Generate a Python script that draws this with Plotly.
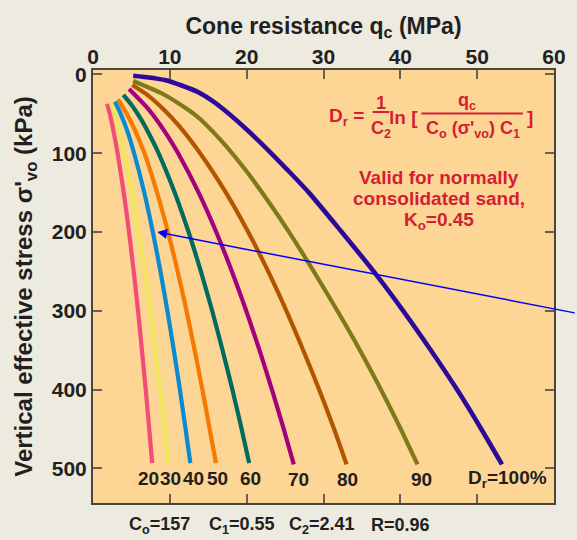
import plotly.graph_objects as go

# ---- data (qc in MPa, sigma'vo in kPa) ----
dr_levels = [20, 30, 40, 50, 60, 70, 80, 90, 100]

qc_20 = [1.83, 2.19, 2.63, 3.2, 4.0, 4.69, 5.3, 5.86, 6.37, 6.86, 7.32, 7.7]
sv_20 = [37.4, 50, 70, 100, 150, 200, 250, 300, 350, 400, 450, 493.4]

qc_30 = [2.35, 2.78, 3.35, 4.07, 5.09, 5.96, 6.74, 7.45, 8.11, 8.73, 9.32, 9.8]
sv_30 = [35.8, 50, 70, 100, 150, 200, 250, 300, 350, 400, 450, 493.4]

qc_40 = [2.85, 3.6, 4.4, 5.35, 6.68, 7.79, 8.78, 9.68, 10.52, 11.31, 12.05, 12.67]
sv_40 = [34.5, 50, 70, 100, 150, 200, 250, 300, 350, 400, 450, 493.4]

qc_50 = [3.25, 4.4, 5.42, 6.7, 8.34, 9.76, 11.02, 12.17, 13.23, 14.24, 15.18, 16.0]
sv_50 = [31.5, 50, 70, 100, 150, 200, 250, 300, 350, 400, 450, 493.4]

qc_60 = [3.95, 5.12, 6.3, 7.27, 8.54, 10.64, 12.44, 14.04, 15.51, 16.86, 18.14, 19.34, 20.33]
sv_60 = [26, 40, 57.7, 75, 100, 150, 200, 250, 300, 350, 400, 450, 493.4]

qc_70 = [4.69, 6.93, 8.46, 9.77, 11.08, 13.75, 16.04, 18.08, 19.94, 21.67, 23.29, 24.82, 26.13]
sv_70 = [18.4, 40.9, 60, 78.9, 100, 150, 200, 250, 300, 350, 400, 450, 495]

qc_80 = [5.11, 6.94, 9.27, 11.17, 13.94, 17.3, 20.2, 22.8, 25.17, 27.36, 29.43, 31.38, 33.0]
sv_80 = [13.3, 25, 45.1, 65, 100, 150, 200, 250, 300, 350, 400, 450, 495]

qc_90 = [5.23, 9.34, 13.3, 16.6, 19.83, 22.74, 25.52, 28.73, 31.8, 34.74, 37.47, 40.05, 42.23]
sv_90 = [8.2, 26, 51.4, 83, 121, 160, 200, 250, 300, 350, 400, 450, 495]

qc_100 = [5.23, 9.34, 13.56, 15.4, 17.1, 20.53, 23.2, 25.3, 28.1, 32.37, 36.53,
          40.37, 43.97, 47.38, 50.53, 53.23]
sv_100 = [1.5, 7.0, 21.8, 32.6, 45.1, 74.6, 100, 121, 150, 200, 250, 300, 350,
          400, 450, 495]

curve_labels = ["20", "30", "40", "50", "60", "70", "80", "90", "D<sub>r</sub>=100%"]

x_ticks = [0, 10, 20, 30, 40, 50, 60]
y_ticks = [0, 100, 200, 300, 400, 500]

arrow_tip = (8.37, 200)
arrow_tail = (61.5, 303)

constants_text = ["C<sub>o</sub>=157", "C<sub>1</sub>=0.55", "C<sub>2</sub>=2.41", "R=0.96"]
note_lines = ["Valid for normally", "consolidated sand,", "K<sub>o</sub>=0.45"]

# ---- styling ----
colors = ["#F24D76", "#F2E55C", "#0A8BD1", "#F47A00", "#006B5E",
          "#A3007D", "#B35500", "#7F7A19", "#2B0A9A"]
label_xshift = [-4, 2, 3, 2, 1, 5, 1, 4, 6]
FONT = "Liberation Sans, Arial, sans-serif"
DARK = "#231F20"
RED = "#D21E36"

W, H = 577, 540
L, R, T, B = 93, 11, 70, 37
pw, ph = W - L - R, H - T - B
X_RANGE = [0, 60]
Y_RANGE = [544, -5.7]


def px(x):
    return (x - L) / pw


def py(y):
    return (H - B - y) / ph


series = [(qc_20, sv_20), (qc_30, sv_30), (qc_40, sv_40), (qc_50, sv_50),
          (qc_60, sv_60), (qc_70, sv_70), (qc_80, sv_80), (qc_90, sv_90),
          (qc_100, sv_100)]

fig = go.Figure()
for (qx, sy), c, lev in zip(series, colors, dr_levels):
    fig.add_trace(go.Scatter(x=qx, y=sy, mode="lines", name=f"{lev}%",
                             line=dict(color=c, width=4.2 if lev < 100 else 4.6,
                                       shape="spline", smoothing=0.7),
                             hoverinfo="skip"))

annotations = []
for (qx, sy), lab, xs in zip(series, curve_labels, label_xshift):
    annotations.append(dict(x=qx[-1], y=sy[-1], xref="x", yref="y", text=lab,
                            showarrow=False, xanchor="center", yanchor="middle",
                            xshift=xs, yshift=-15,
                            font=dict(family=FONT, size=19, color=DARK, weight="bold")))

# arrow (tail given in data units, converted to a pixel offset so it is not clipped)
sx = pw / (X_RANGE[1] - X_RANGE[0])
sy_ = ph / (Y_RANGE[0] - Y_RANGE[1])
annotations.append(dict(x=arrow_tip[0], y=arrow_tip[1], xref="x", yref="y",
                        ax=(arrow_tail[0] - arrow_tip[0]) * sx,
                        ay=(arrow_tail[1] - arrow_tip[1]) * sy_,
                        axref="pixel", ayref="pixel", text="",
                        showarrow=True, arrowhead=2, arrowsize=1.3, arrowwidth=1.5,
                        arrowcolor="#0000FF"))

# formula
ff = dict(family=FONT, size=19, color=RED, weight="bold")
ffs = dict(family=FONT, size=18, color=RED, weight="bold")
formula = [
    dict(x=px(353), y=py(117), text="D<sub>r</sub> =", font=ff),
    dict(x=px(388.5), y=py(103), text="1", font=ffs),
    dict(x=px(388.5), y=py(129), text="C<sub>2</sub>", font=ffs),
    dict(x=px(412), y=py(117), text="ln [", font=ff),
    dict(x=px(477), y=py(102), text="q<sub>c</sub>", font=ffs),
    dict(x=px(482.5), y=py(129), text="C<sub>o</sub> (σ'<sub>vo</sub>) C<sub>1</sub>", font=ffs),
    dict(x=px(541.5), y=py(117), text="]", font=ff),
]
for txt, yy in zip(note_lines, [177, 198.5, 220.5]):
    formula.append(dict(x=px(448.5), y=py(yy), text=txt,
                        font=dict(family=FONT, size=19, color=RED, weight="bold")))
for a in formula:
    a.update(xref="paper", yref="paper", showarrow=False, xanchor="center", yanchor="middle")
annotations += formula

# constants under the chart
for txt, cx in zip(constants_text, [161.5, 246, 328, 409]):
    annotations.append(dict(x=px(cx), y=py(525), xref="paper", yref="paper", text=txt,
                            showarrow=False, xanchor="center", yanchor="middle",
                            font=dict(family=FONT, size=18, color=DARK, weight="bold")))

shapes = [
    dict(type="line", xref="paper", yref="paper", x0=px(380), x1=px(397),
         y0=py(112), y1=py(112), line=dict(color=RED, width=2)),
    dict(type="line", xref="paper", yref="paper", x0=px(430), x1=px(534),
         y0=py(113.5), y1=py(113.5), line=dict(color=RED, width=2)),
]

axis_common = dict(showgrid=False, zeroline=False, showline=True, linecolor="#4A4540",
                   linewidth=2, mirror="allticks", ticks="inside", ticklen=9,
                   tickwidth=1.5, tickcolor="#6B6050",
                   tickfont=dict(family=FONT, size=21, color=DARK, weight="bold"))

fig.update_layout(
    width=W, height=H,
    margin=dict(l=L, r=R, t=T, b=B, pad=0),
    paper_bgcolor="#EDEAE0", plot_bgcolor="#FDD594",
    showlegend=False,
    xaxis=dict(range=X_RANGE, side="top", tickvals=x_ticks, ticklabelstandoff=-4,
               **axis_common,
               title=dict(text="Cone resistance q<sub>c</sub> (MPa)", standoff=4,
                          font=dict(family=FONT, size=23, color=DARK, weight="bold"))),
    yaxis=dict(range=Y_RANGE, tickvals=y_ticks, ticklabelstandoff=0, **axis_common,
               title=dict(text="Vertical effective stress σ'<sub>vo</sub> (kPa)", standoff=12,
                          font=dict(family=FONT, size=24, color=DARK, weight="bold"))),
    annotations=annotations, shapes=shapes,
)

fig.write_html("out.html")
